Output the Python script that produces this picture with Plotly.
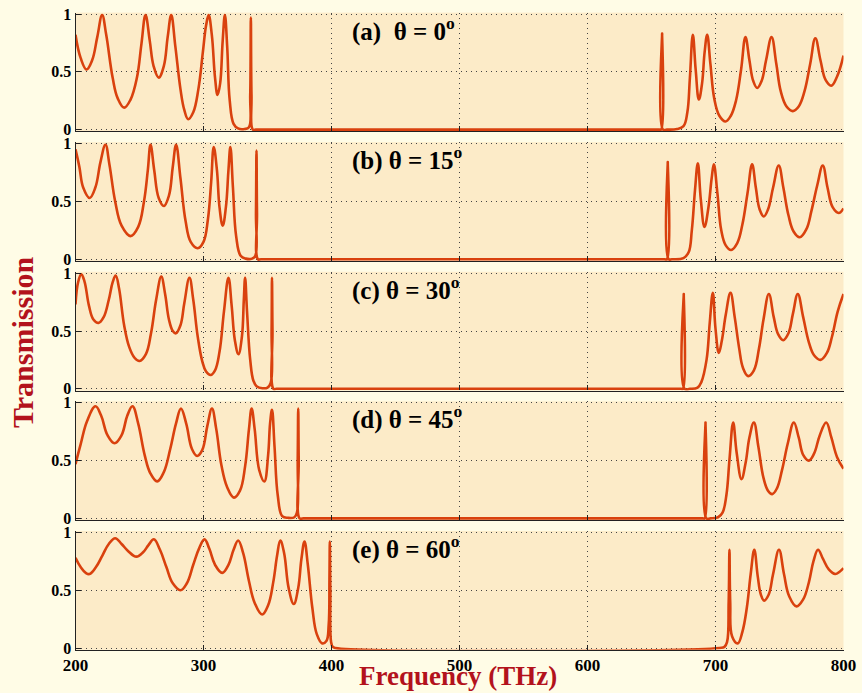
import plotly.graph_objects as go

# ---------------- data ----------------
freq_a = [200, 204, 208.6, 213, 217, 220.8, 224, 229, 233, 238, 243, 248, 251.5, 254.7, 258, 261, 265, 269, 272, 274.8,
          278, 282, 285, 288, 292, 296, 299.5, 302, 304, 306.5, 309, 311, 313, 315, 316.7, 318.5, 320.5, 323.5, 327, 332,
          335.5, 336.5, 337, 337.5, 338.5, 341, 656, 657.5, 658.3, 659, 662, 670, 675, 678, 680, 682.3, 684.5, 687, 689.5,
          691.5, 693.5, 696, 699, 703, 707.8, 712, 716, 720, 723.4, 726.5, 729.5, 732.6, 736, 739.5, 743.8, 747.5, 751,
          755.5, 760.4, 765, 769.5, 774, 778, 782, 786, 790.4, 795, 800]
trans_a = [0.82, 0.62, 0.52, 0.60, 0.80, 0.99, 0.82, 0.45, 0.27, 0.19, 0.26, 0.45, 0.74, 0.99, 0.77, 0.55, 0.45, 0.55, 0.80, 0.99,
           0.72, 0.35, 0.17, 0.09, 0.15, 0.35, 0.67, 0.90, 0.99, 0.82, 0.45, 0.30, 0.40, 0.77, 0.99, 0.72, 0.25, 0.05, 0.01, 0.005,
           0.02, 0.30, 0.97, 0.30, 0.0, 0.0, 0.0, 0.0, 0.83, 0.0, 0.0, 0.005, 0.03, 0.15, 0.45, 0.82, 0.52, 0.26, 0.40,
           0.67, 0.82, 0.57, 0.27, 0.12, 0.07, 0.12, 0.25, 0.52, 0.80, 0.60, 0.42, 0.36, 0.42, 0.60, 0.80, 0.57, 0.33,
           0.20, 0.16, 0.20, 0.33, 0.57, 0.79, 0.60, 0.43, 0.38, 0.46, 0.64]

freq_b = [200, 203, 206, 211, 215.5, 219.5, 223.4, 226.5, 231, 236, 243, 249, 253.5, 256.5, 258.6, 261.5, 265, 269, 273, 276,
          278.6, 282, 286, 290, 295.5, 300, 303.5, 306, 308, 310.5, 312.5, 315, 317.5, 319.5, 321, 323, 325.5, 329, 333, 338,
          340.5, 341, 341.4, 341.8, 342.5, 345, 660, 662, 662.7, 663.4, 666, 675, 679, 681.5, 684, 686.2, 688.5, 691.4,
          694.5, 697, 698.7, 701.5, 704.5, 708, 712.2, 717, 721, 725, 728.6, 731.5, 734.5, 737.7, 741, 745, 749.4, 753,
          757, 761, 765.8, 771, 775, 779.5, 783.8, 787.5, 791.5, 796.3, 800]
trans_b = [0.95, 0.80, 0.62, 0.53, 0.62, 0.84, 0.99, 0.82, 0.50, 0.29, 0.20, 0.28, 0.50, 0.77, 0.99, 0.77, 0.53, 0.46, 0.55, 0.80,
           0.99, 0.70, 0.33, 0.15, 0.095, 0.15, 0.35, 0.67, 0.97, 0.77, 0.45, 0.29, 0.45, 0.77, 0.97, 0.62, 0.20, 0.03, 0.005, 0.005,
           0.03, 0.40, 0.94, 0.40, 0.0, 0.0, 0.0, 0.0, 0.84, 0.0, 0.0, 0.01, 0.06, 0.25, 0.60, 0.83, 0.52, 0.28,
           0.45, 0.70, 0.82, 0.57, 0.25, 0.12, 0.08, 0.14, 0.30, 0.57, 0.82, 0.62, 0.43, 0.37, 0.43, 0.62, 0.81, 0.62,
           0.38, 0.24, 0.19, 0.26, 0.42, 0.64, 0.81, 0.62, 0.45, 0.40, 0.44]

freq_c = [200, 202, 204.5, 207, 210.5, 214, 218, 222, 226, 229, 231.4, 234, 238, 242, 246, 250, 255, 259, 263, 267, 270, 273,
          276, 278.4, 282, 285, 289, 292, 295.5, 299, 302, 305.6, 309, 312.5, 316, 319.5, 322, 324.5, 327.3, 330, 331.5,
          332.5, 334, 336.5, 339, 341.7, 346, 350, 352.5, 353.2, 353.5, 353.9, 354.6, 357, 673, 674.5, 675.2, 675.9, 680,
          686, 689, 693, 695.5, 697.9, 700, 702.6, 705, 708, 711.7, 715, 718.5, 721.5, 725.5, 730, 734, 737.5, 741.7,
          745.5, 749, 752.9, 757, 760.5, 764.3, 768.5, 773, 777, 782, 787, 791, 795.5, 800]
trans_c = [0.73, 0.92, 0.99, 0.93, 0.72, 0.60, 0.57, 0.62, 0.77, 0.92, 0.98, 0.87, 0.55, 0.36, 0.27, 0.24, 0.30, 0.48, 0.77, 0.97,
           0.82, 0.60, 0.50, 0.48, 0.55, 0.74, 0.96, 0.77, 0.45, 0.24, 0.15, 0.12, 0.16, 0.32, 0.67, 0.96, 0.72, 0.42, 0.30,
           0.45, 0.77, 0.96, 0.67, 0.25, 0.07, 0.02, 0.005, 0.01, 0.05, 0.50, 0.96, 0.50, 0.0, 0.0, 0.0, 0.0, 0.82, 0.0,
           0.0, 0.01, 0.06, 0.25, 0.57, 0.83, 0.52, 0.31, 0.42, 0.64, 0.83, 0.62, 0.35, 0.18, 0.11, 0.16, 0.35, 0.60,
           0.82, 0.62, 0.47, 0.42, 0.48, 0.65, 0.82, 0.62, 0.40, 0.29, 0.25, 0.31, 0.45, 0.67, 0.82]

freq_d = [200, 204, 209, 215.6, 220, 225, 230.5, 236, 240.5, 244.5, 249, 254, 258.5, 263.8, 269, 274, 278.5, 282.4, 286.5, 291,
          295, 299, 303, 306.6, 310, 314, 318.5, 323.8, 328.5, 332.5, 335.5, 337.6, 340, 343.5, 347.5, 350.5, 352, 353.5,
          355.5, 358, 361.5, 366, 371, 373, 373.6, 374, 374.4, 375.1, 378, 690, 691.5, 692.2, 692.9, 696, 702, 705.5,
          708.5, 711, 713.8, 716.5, 720.3, 723.5, 726.5, 730, 733.5, 737.5, 741, 744.3, 748, 752, 756.5, 761.2, 765,
          768.5, 772.9, 777, 781.5, 786.5, 790.5, 795, 800]
trans_d = [0.47, 0.64, 0.84, 0.97, 0.89, 0.72, 0.65, 0.72, 0.89, 0.97, 0.82, 0.55, 0.39, 0.32, 0.40, 0.60, 0.82, 0.95, 0.82, 0.60,
           0.54, 0.59, 0.80, 0.95, 0.77, 0.46, 0.27, 0.18, 0.24, 0.45, 0.77, 0.95, 0.77, 0.42, 0.32, 0.55, 0.82, 0.94,
           0.62, 0.20, 0.02, 0.005, 0.01, 0.05, 0.50, 0.95, 0.50, 0.0, 0.0, 0.0, 0.0, 0.83, 0.0, 0.0, 0.01, 0.05,
           0.20, 0.52, 0.83, 0.57, 0.34, 0.48, 0.70, 0.83, 0.62, 0.35, 0.24, 0.21, 0.26, 0.42, 0.65, 0.83, 0.70,
           0.55, 0.50, 0.56, 0.72, 0.83, 0.70, 0.53, 0.43]

freq_e = [200, 204, 208, 211, 216, 221, 226, 231, 236, 241, 247.6, 253, 257, 261.2, 266, 271, 276, 282, 287, 292, 296.5, 300.8,
          304.5, 309, 314.6, 319.5, 323.5, 327.1, 331, 335.5, 340, 345.8, 350.5, 354.5, 357.5, 360, 363, 366.5, 370.5, 374,
          376.5, 378.9, 381.5, 385, 388.5, 392.7, 396, 397.8, 398.4, 398.7, 399.1, 399.7, 401, 403, 703, 707, 709, 710.3,
          710.9, 711.5, 713, 717.4, 721, 724.5, 727.5, 730.3, 733, 735.5, 738, 741.5, 745, 749.6, 753.5, 757.5, 763.3,
          768.5, 773, 776.5, 780.1, 784, 788.5, 793.5, 797, 800]
trans_e = [0.78, 0.70, 0.65, 0.64, 0.70, 0.80, 0.90, 0.95, 0.90, 0.84, 0.79, 0.83, 0.89, 0.94, 0.85, 0.70, 0.56, 0.50, 0.56, 0.72,
           0.86, 0.94, 0.86, 0.72, 0.65, 0.72, 0.85, 0.93, 0.82, 0.58, 0.39, 0.29, 0.37, 0.57, 0.80, 0.93, 0.82, 0.52,
           0.38, 0.52, 0.77, 0.92, 0.72, 0.35, 0.12, 0.04, 0.06, 0.20, 0.60, 0.92, 0.50, 0.05, 0.01, 0.0, 0.0, 0.01,
           0.05, 0.40, 0.85, 0.40, 0.10, 0.04, 0.14, 0.35, 0.64, 0.85, 0.62, 0.46, 0.41, 0.46, 0.64, 0.85, 0.64, 0.45,
           0.36, 0.42, 0.57, 0.75, 0.85, 0.77, 0.68, 0.64, 0.66, 0.69]

panel_labels = ["(a)  θ = 0<sup>o</sup>", "(b) θ = 15<sup>o</sup>", "(c) θ = 30<sup>o</sup>",
                "(d) θ = 45<sup>o</sup>", "(e) θ = 60<sup>o</sup>"]
x_ticks = [200, 300, 400, 500, 600, 700, 800]
y_ticks = [0, 0.5, 1]
y_ticktext = ["0", "0.5", "1"]

series = [(freq_a, trans_a), (freq_b, trans_b), (freq_c, trans_c), (freq_d, trans_d), (freq_e, trans_e)]

# ---------------- layout ----------------
W, H = 862, 693
LINE = "#D9410E"
DARKRED = "#B3121C"
SERIF = "Liberation Serif, Times New Roman, serif"
y_lo, y_hi = -0.015, 1.012

fig = go.Figure()
layout = dict(
    width=W, height=H,
    margin=dict(l=0, r=0, t=0, b=0),
    paper_bgcolor="#FFFCE6",
    plot_bgcolor="#FCEBC8",
    showlegend=False,
    font=dict(family=SERIF, size=16, color="black"),
)

x_left_px, x_right_px = 75.5, 843.5
annotations = []
for i, (fx, ty) in enumerate(series):
    n = i + 1
    top1 = 14 + 129.6 * i          # pixel of y = 1
    h = 115.6
    top_px = top1 - (y_hi - 1) * h
    bot_px = top1 + h + (0 - y_lo) * h
    xa = "xaxis" if n == 1 else f"xaxis{n}"
    ya = "yaxis" if n == 1 else f"yaxis{n}"
    xs = "x" if n == 1 else f"x{n}"
    ys = "y" if n == 1 else f"y{n}"
    fig.add_trace(go.Scatter(x=fx, y=ty, mode="lines", xaxis=xs, yaxis=ys,
                             line=dict(color=LINE, width=2.6, shape="spline", smoothing=1.15),
                             hoverinfo="skip"))
    layout[xa] = dict(
        domain=[x_left_px / W, x_right_px / W], range=[200, 800], anchor=ys,
        tickvals=x_ticks, ticktext=[str(v) for v in x_ticks], showticklabels=(n == 5),
        ticks="inside", ticklen=5, tickcolor="#222", showline=True, linecolor="#222", linewidth=1.3,
        showgrid=True, gridcolor="#444", griddash="1px,4px", gridwidth=1.2, zeroline=False,
        tickfont=dict(family=SERIF, size=17, color="black", weight="bold"), automargin=False,
        fixedrange=True,
    )
    if n != 1:
        layout[xa]["matches"] = "x"
    layout[ya] = dict(
        domain=[1 - bot_px / H, 1 - top_px / H], range=[y_lo, y_hi], anchor=xs,
        tickvals=y_ticks, ticktext=y_ticktext, ticks="inside", ticklen=5, tickcolor="#222",
        showline=True, linecolor="#222", linewidth=1.3,
        showgrid=True, gridcolor="#444", griddash="1px,4px", gridwidth=1.2, zeroline=False,
        tickfont=dict(family=SERIF, size=16, color="black", weight="bold"), automargin=False,
        fixedrange=True,
    )
    annotations.append(dict(text=panel_labels[i], x=414.8, y=0.87, xref=xs, yref=ys,
                            xanchor="left", yanchor="middle", showarrow=False,
                            font=dict(family=SERIF, size=25, color="black", weight="bold")))

annotations.append(dict(text="Transmission", x=22 / W, y=1 - 343 / H, xref="paper", yref="paper",
                        textangle=-90, showarrow=False, xanchor="center", yanchor="middle",
                        font=dict(family=SERIF, size=30, color=DARKRED, weight="bold")))
annotations.append(dict(text="Frequency (THz)", x=458 / W, y=1 - 676 / H, xref="paper", yref="paper",
                        showarrow=False, xanchor="center", yanchor="middle",
                        font=dict(family=SERIF, size=27, color=DARKRED, weight="bold")))
layout["annotations"] = annotations
fig.update_layout(**layout)
fig.write_html("out.html")
